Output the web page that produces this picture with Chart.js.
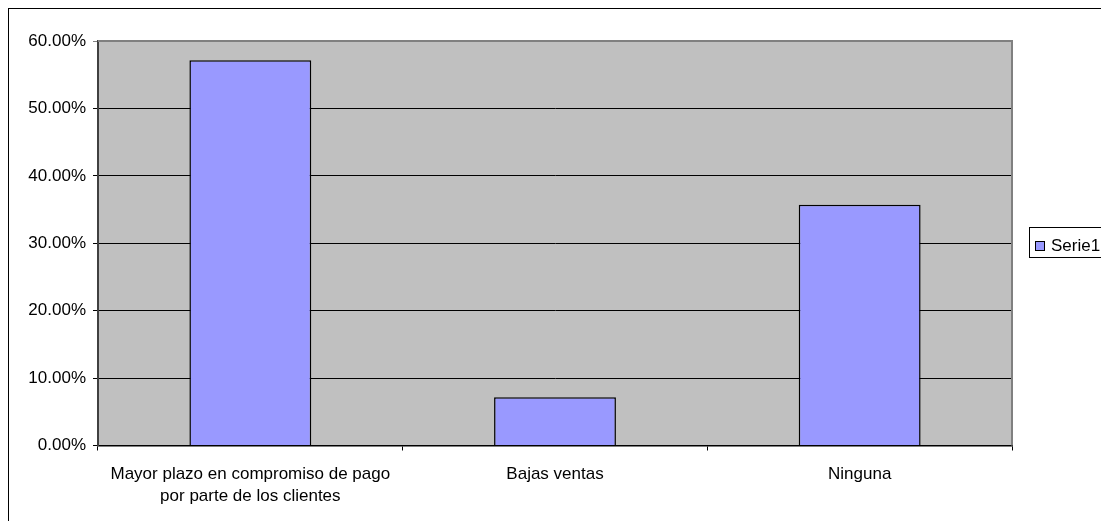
<!DOCTYPE html>
<html>
<head>
<meta charset="utf-8">
<script src="https://cdn.jsdelivr.net/npm/chart.js@4/dist/chart.umd.min.js"></script>
<style>
  html, body { margin: 0; padding: 0; background: #ffffff; }
  #wrap { width: 1101px; height: 521px; position: relative; }
</style>
</head>
<body>
<div id="wrap"><canvas id="c" width="1101" height="521"></canvas></div>
<script>
const categories = [
  ["Mayor plazo en compromiso de pago", "por parte de los clientes"],
  "Bajas ventas",
  "Ninguna"
];
const seriesName = "Serie1";
const serie1 = [0.5714, 0.0714, 0.3571];
const yTicks = [0, 0.1, 0.2, 0.3, 0.4, 0.5, 0.6];

const FONT = "'Liberation Sans', Arial, sans-serif";

const framePlugin = {
  id: 'frame',
  beforeDraw(chart) {
    const ctx = chart.ctx;
    const a = chart.chartArea;
    ctx.save();
    ctx.fillStyle = '#ffffff';
    ctx.fillRect(0, 0, chart.width, chart.height);
    ctx.strokeStyle = '#000000';
    ctx.lineWidth = 1;
    ctx.strokeRect(8.5, 8.5, 1300, 1300);
    ctx.fillStyle = '#C0C0C0';
    ctx.fillRect(a.left, a.top, a.right - a.left, a.bottom - a.top);
    ctx.restore();
  },
  afterDatasetsDraw(chart) {
    const ctx = chart.ctx;
    const a = chart.chartArea;
    ctx.save();
    ctx.strokeStyle = '#808080';
    ctx.lineWidth = 2;
    ctx.beginPath();
    ctx.moveTo(a.left, a.top);
    ctx.lineTo(a.right, a.top);
    ctx.lineTo(a.right, a.bottom);
    ctx.stroke();
    ctx.restore();
  },
  afterDraw(chart) {
    const ctx = chart.ctx;
    const ds = chart.data.datasets[0];
    ctx.save();
    ctx.fillStyle = '#ffffff';
    ctx.fillRect(1029, 227, 100, 31);
    ctx.strokeStyle = '#000000';
    ctx.lineWidth = 1;
    ctx.strokeRect(1029.5, 227.5, 100, 30);
    ctx.fillStyle = ds.backgroundColor;
    ctx.fillRect(1035.5, 241.5, 9, 9);
    ctx.strokeRect(1035.5, 241.5, 9, 9);
    ctx.fillStyle = '#000000';
    ctx.font = '17px ' + FONT;
    ctx.textBaseline = 'middle';
    ctx.textAlign = 'left';
    ctx.fillText(ds.label, 1051, 246);
    ctx.restore();
  }
};

new Chart(document.getElementById('c'), {
  type: 'bar',
  data: {
    labels: categories,
    datasets: [{
      label: seriesName,
      data: serie1,
      backgroundColor: '#9999FF',
      borderColor: '#000000',
      borderWidth: 1.5,
      categoryPercentage: 0.4,
      barPercentage: 1.0
    }]
  },
  options: {
    responsive: false,
    animation: false,
    devicePixelRatio: 1,
    layout: { padding: { top: 41, right: 89, left: 0, bottom: 0 } },
    plugins: {
      legend: { display: false },
      tooltip: { enabled: false }
    },
    scales: {
      x: {
        offset: true,
        grid: {
          offset: true,
          drawOnChartArea: false,
          drawTicks: true,
          tickLength: 5,
          color: '#000000',
          lineWidth: 1
        },
        border: { display: true, color: '#000000', width: 1.5 },
        ticks: {
          color: '#000000',
          font: { family: FONT, size: 17, lineHeight: 1.3 },
          padding: 13,
          maxRotation: 0,
          autoSkip: false
        },
        afterFit(scale) { scale.height = 75.5; }
      },
      y: {
        min: 0,
        max: 0.6,
        afterBuildTicks(scale) { scale.ticks = yTicks.map(v => ({ value: v })); },
        grid: {
          color: ctx => (ctx.tick && ctx.tick.value >= 0.6) ? '#808080' : '#000000',
          lineWidth: 1,
          drawTicks: true,
          tickLength: 5
        },
        border: { display: true, color: '#404040', width: 2 },
        ticks: {
          color: '#000000',
          font: { family: FONT, size: 17 },
          padding: 7,
          callback: v => (v * 100).toFixed(2) + '%'
        },
        afterFit(scale) { scale.width = 98; }
      }
    }
  },
  plugins: [framePlugin]
});
</script>
</body>
</html>
